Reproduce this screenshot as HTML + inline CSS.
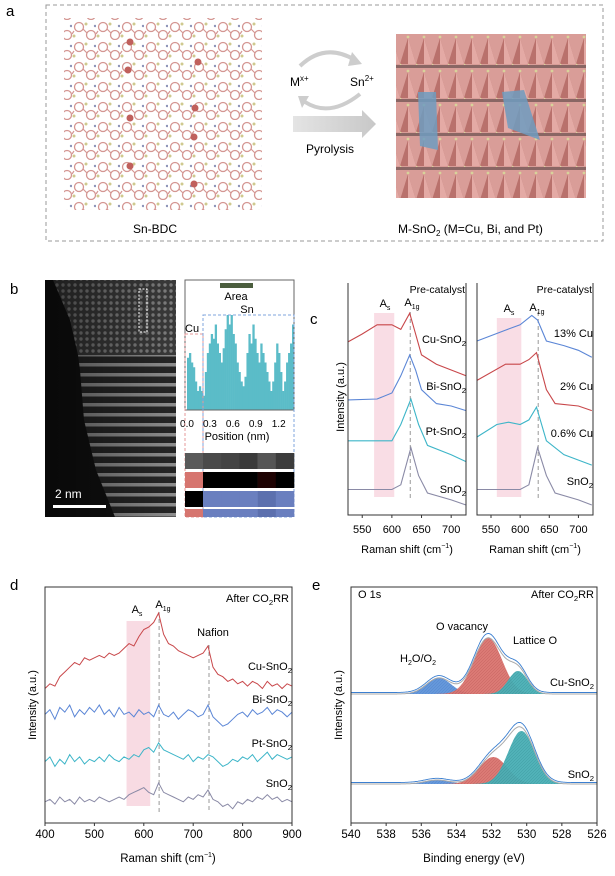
<!DOCTYPE html>
<html><head><meta charset="utf-8"><style>
html,body{margin:0;padding:0;background:#fff}
svg{display:block;font-family:"Liberation Sans",Arial,sans-serif}
</style></head><body>
<svg id="fig" width="615" height="876" viewBox="0 0 615 876">
<defs>
<pattern id="hatchR" width="3" height="3" patternUnits="userSpaceOnUse"><rect width="3" height="3" fill="#d9736e"/><path d="M0,3L3,0" stroke="#c15a55" stroke-width="0.5"/></pattern>
<pattern id="hatchB" width="3" height="3" patternUnits="userSpaceOnUse"><rect width="3" height="3" fill="#5d93d8"/><path d="M0,3L3,0" stroke="#4a7fca" stroke-width="0.5"/></pattern>
<pattern id="hatchT" width="3" height="3" patternUnits="userSpaceOnUse"><rect width="3" height="3" fill="#48aeb4"/><path d="M0,3L3,0" stroke="#35979d" stroke-width="0.5"/></pattern>
<pattern id="mof" width="24" height="20" patternUnits="userSpaceOnUse">
<circle cx="7" cy="7" r="4.5" fill="none" stroke="#d49692" stroke-width="1.3"/>
<circle cx="19" cy="15" r="4.5" fill="none" stroke="#d49692" stroke-width="1.3"/>
<path d="M11,9L15,13M2,11L0,14" stroke="#d49692" stroke-width="1.2"/>
<circle cx="14" cy="4" r="1.5" fill="#cfc98f"/><circle cx="2" cy="16" r="1.5" fill="#cfc98f"/>
<circle cx="23" cy="6" r="1.2" fill="#8d93b8"/>
</pattern>
<pattern id="oct" width="16" height="34" patternUnits="userSpaceOnUse">
<rect width="16" height="34" fill="#d99d98"/><path d="M0,30L8,4L16,30Z" fill="#b9716c"/><path d="M8,4L16,30H8Z" fill="#e4aaa5"/><circle cx="8" cy="3" r="1.4" fill="#d8d39a"/><circle cx="0" cy="31" r="1.4" fill="#d8d39a"/><rect y="31" width="16" height="3" fill="#8a6664"/>
</pattern>
<pattern id="stripes" width="10" height="10" patternUnits="userSpaceOnUse"><rect width="10" height="10" fill="#262626"/><rect y="3" width="10" height="3.5" fill="#8e8e8e"/></pattern>
<pattern id="dots" width="6" height="6" patternUnits="userSpaceOnUse"><rect width="6" height="6" fill="#3a3a3a"/><circle cx="3" cy="3" r="1.7" fill="#7e7e7e"/></pattern>
<linearGradient id="arr" x1="0" x2="1"><stop offset="0" stop-color="#e4e4e4"/><stop offset="1" stop-color="#c8c8c8"/></linearGradient>
<linearGradient id="stemfade" x1="0" x2="1"><stop offset="0" stop-color="#000" stop-opacity="0.5"/><stop offset="1" stop-color="#000" stop-opacity="0"/></linearGradient>
</defs>

<!-- Panel a -->
<g>
<text x="6" y="16" font-size="15">a</text>
<rect x="46" y="5" width="557" height="236" fill="none" stroke="#999" stroke-dasharray="4,3"/>
<rect x="64" y="18" width="198" height="192" fill="url(#mof)"/>
<g fill="#c0605c">
<circle cx="130" cy="42" r="3.5"/><circle cx="128" cy="70" r="3.5"/><circle cx="130" cy="118" r="3.5"/><circle cx="130" cy="166" r="3.5"/><circle cx="198" cy="62" r="3.5"/><circle cx="195" cy="108" r="3.5"/><circle cx="194" cy="137" r="3.5"/><circle cx="194" cy="184" r="3.5"/>
</g>
<g>
<rect x="396" y="34" width="190" height="164" fill="url(#oct)"/>
<polygon points="418,92 436,92 438,150 420,146" fill="#6f9cc0" opacity="0.85"/>
<polygon points="502,92 524,90 540,140 508,128" fill="#6f9cc0" opacity="0.85"/>
</g>
<path d="M300,66 Q325,42 355,60" fill="none" stroke="#cdcdcd" stroke-width="4"/>
<polygon points="352,52 362,64 348,66" fill="#cdcdcd"/>
<path d="M360,94 Q330,118 305,102" fill="none" stroke="#cdcdcd" stroke-width="4"/>
<polygon points="298,96 309,96 302,108" fill="#cdcdcd"/>
<polygon points="293,116 362,116 362,110 376,124 362,138 362,132 293,132" fill="url(#arr)"/>
<text x="290" y="86" font-size="12">M<tspan font-size="8" dy="-5">x+</tspan></text>
<text x="350" y="86" font-size="12">Sn<tspan font-size="8" dy="-5">2+</tspan></text>
<text x="330" y="153" font-size="12" text-anchor="middle">Pyrolysis</text>
<text x="155" y="233" font-size="12" text-anchor="middle">Sn-BDC</text>
<text x="398" y="233" font-size="12">M-SnO<tspan font-size="8" dy="3">2</tspan><tspan dy="-3"> (M=Cu, Bi, and Pt)</tspan></text>
</g>

<!-- Panel b -->
<g>
<text x="10" y="294" font-size="15">b</text>
<rect x="45" y="280" width="131" height="237" fill="#111"/>
<polygon points="78,355 176,355 176,517 115,517 96,470 84,420 80,370" fill="url(#stripes)"/>
<polygon points="53,280 176,280 176,355 78,355 70,320" fill="url(#dots)"/>
<rect x="45" y="280" width="131" height="237" fill="url(#stemfade)"/>
<rect x="139" y="289" width="8" height="43" fill="none" stroke="#fff" stroke-dasharray="2,1.5"/>
<rect x="53" y="505" width="53" height="3" fill="#fff"/>
<text x="55" y="498" font-size="12" fill="#fff">2  nm</text>
<g id="profile"></g>
<g id="strips"></g>
</g>

<!-- Panel c -->
<g>
<text x="310" y="324" font-size="15">c</text>
<g id="cLeft"></g>
<g id="cRight"></g>
<text transform="translate(344,397) rotate(-90)" font-size="11" text-anchor="middle">Intensity (a.u.)</text>
</g>

<!-- Panel d -->
<g>
<text x="10" y="590" font-size="15">d</text>
<g id="dChart"></g>
<text transform="translate(36,705) rotate(-90)" font-size="11" text-anchor="middle">Intensity (a.u.)</text>
</g>

<!-- Panel e -->
<g>
<text x="312" y="590" font-size="15">e</text>
<g id="eChart"></g>
<text transform="translate(342,705) rotate(-90)" font-size="11" text-anchor="middle">Intensity (a.u.)</text>
</g>
</svg>

<script>
const NS="http://www.w3.org/2000/svg";
function mk(parent,tag,attrs,text){const e=document.createElementNS(NS,tag);for(const k in attrs)e.setAttribute(k,attrs[k]);if(text!==undefined)e.textContent=text;parent.appendChild(e);return e;}

/* ---------- Panel b profile data ---------- */
const profileValues=[0.55,0.6,0.5,0.45,0.3,0.2,0.25,0.2,0.15,0.4,0.6,0.7,0.8,0.75,0.9,0.7,0.6,0.5,0.65,0.85,1.0,0.9,1.0,0.8,0.7,0.5,0.4,0.3,0.25,0.35,0.6,0.8,0.7,0.9,0.75,0.6,0.5,0.7,0.6,0.5,0.4,0.3,0.2,0.3,0.5,0.7,0.6,0.4,0.2,0.3,0.5,0.6,0.7,0.9];
const profileTicks=[0.0,0.3,0.6,0.9,1.2];
const profileMax=1.4;
const stripRows=[["#5a5a5a","#4a4a4a","#444","#3a3a3a","#555","#3c3c3c"],["#d6756f","#000","#000","#000","#1e0303","#000"],["#000","#6a7fbf","#6a7fbf","#6a7fbf","#5c70ae","#6a7fbf"],["#d6756f","#6a7fbf","#6a7fbf","#6a7fbf","#5c70ae","#6a7fbf"]];
(function(){
 const g=document.getElementById('profile');
 const x0=187,x1=294,yb=410,yt=315;
 const xs=v=>x0+(v/profileMax)*(x1-x0);
 const ys=v=>yb-v*(yb-yt);
 const bw=(x1-x0)/profileValues.length;
 profileValues.forEach((v,i)=>{const r=mk(g,'rect',{x:x0+i*bw,y:ys(v),width:bw+0.3,height:yb-ys(v),fill:'#5bbcc8'});
  });
 const ax=mk(g,'path',{d:`M185,280V${yb}H${x1}V280Z`,fill:'none',stroke:'#666','stroke-width':1});
 
 profileTicks.forEach(t=>{const tx=mk(g,'text',{x:xs(t),y:427,'font-size':10,'text-anchor':'middle'},t.toFixed(1));
  });
 const tt=mk(g,'text',{x:237,y:440,'font-size':11,'text-anchor':'middle'},'Position (nm)');
 
 const d1=mk(g,'rect',{x:185,y:334,width:18,height:183,fill:'none',stroke:'#e59a9a','stroke-dasharray':'3,2'});
 
 const d2=mk(g,'rect',{x:203,y:315,width:91,height:202,fill:'none',stroke:'#7fa4dd','stroke-dasharray':'3,2'});
 
 const ar=mk(g,'rect',{x:220,y:283,width:33,height:5,fill:'#4b5e3e'});
 
 const l1=mk(g,'text',{x:236,y:300,'font-size':11,'text-anchor':'middle'},'Area');
 
 const l2=mk(g,'text',{x:247,y:313,'font-size':11,'text-anchor':'middle'},'Sn');
 
 const l3=mk(g,'text',{x:185,y:332,'font-size':11},'Cu');
 
 const sg=document.getElementById('strips');
 const rowsY=[453,472,491,509];
 const rowsH=[16,16,16,8];
 stripRows.forEach((row,ri)=>{row.forEach((c,ci)=>{const x=ci===0?185:203+(ci-1)*(91/5);const w=ci===0?18:91/5+0.3;
  const r=mk(sg,'rect',{x:x,y:rowsY[ri],width:w,height:rowsH[ri],fill:c});
  });});
})();

/* ---------- Panel c data ---------- */
const cLeftX=[[526,550,575,600,615,630,640,650,675,700,725],[526,575,600,615,630,640,650,675,700,725],[526,575,600,615,632,645,660,700,725],[526,575,600,615,632,645,660,700,725]];
const cLeftY=[[74.6,78,82,82,80,87,78,69,65,62.5,60],[49.6,50,52.6,60,69,62.5,54,48,47,45],[32,32,32,39,50,39,30,26,23],[11,11,11,13,29,17,9.5,6.5,4.3]];
const cLeftLabels=["Cu-SnO2","Bi-SnO2","Pt-SnO2","SnO2"];
const cRightX=[[526,575,600,620,630,645,675,700,723],[526,575,600,615,628,645,660,700,723],[526,560,580,600,615,628,645,675,723],[526,575,600,615,630,645,660,700,723]];
const cRightY=[[75,79.7,82,86,84,75,73,71,68],[58,65,65,67,70,54,48,47,45],[33.6,39,40,39,41,46.5,32,26,21.5],[11,11,11,13,29,17,9.5,6.5,4.3]];
const cRightLabels=["13% Cu","2% Cu","0.6% Cu","SnO2"];
const cTicks=[550,600,650,700];
const colors=["#c8474a","#5b86d6","#3db5c8","#8a8aa6"];
const cRightColors=["#5b86d6","#c8474a","#3db5c8","#8a8aa6"];

function sub2(g,x,y,txt,size,anchor,name){
 const t=mk(g,'text',{x:x,y:y,'font-size':size,'text-anchor':anchor||'start'});
 
 if(txt.indexOf('O2')>=0){const i=txt.lastIndexOf('O2');
  mk(t,'tspan',{},txt.slice(0,i+1));mk(t,'tspan',{'font-size':size*0.7,dy:3},'2');mk(t,'tspan',{dy:-3},txt.slice(i+2)||'\u200b');}
 else t.textContent=txt;
 return t;
}

function ramanC(id,x0,x1,band,bandTop,XS,YS,labels,labelY,cols,asPos,a1Pos){
 const g=document.getElementById(id);
 const yb=515,yt=283,dmin=526,dmax=725;
 const xs=v=>x0+(v-dmin)/(dmax-dmin)*(x1-x0);
 const ys=v=>yb-v*(yb-yt)/100;
 const b=mk(g,'rect',{x:xs(band[0]),y:bandTop,width:xs(band[1])-xs(band[0]),height:497-bandTop,fill:'#f7d5de',opacity:0.8});
 
 const dl=mk(g,'line',{x1:xs(631),x2:xs(631),y1:312,y2:500,stroke:'#999','stroke-dasharray':'4,3'});
 
 XS.forEach((xa,si)=>{let d='';xa.forEach((x,i)=>{d+=(i?'L':'M')+xs(x).toFixed(1)+','+ys(YS[si][i]).toFixed(1);});
  const p=mk(g,'path',{d:d,fill:'none',stroke:cols[si],'stroke-width':1.1});
  
  sub2(g,x1,labelY[si],labels[si],11,'end','spectrum-label');});
 const ax=mk(g,'path',{d:`M${x0},${yt}V${yb}H${x1}V${yt}`,fill:'none',stroke:'#333','stroke-width':1});
 
 cTicks.forEach(t=>{const l=mk(g,'line',{x1:xs(t),x2:xs(t),y1:yb,y2:yb+3,stroke:'#333'});
  
  const tx=mk(g,'text',{x:xs(t),y:533,'font-size':11,'text-anchor':'middle'},t);
  });
 const tt=mk(g,'text',{x:(x0+x1)/2,y:553,'font-size':11,'text-anchor':'middle'});
 
 mk(tt,'tspan',{},'Raman shift (cm');mk(tt,'tspan',{'font-size':7,dy:-5},'−1');mk(tt,'tspan',{dy:5},')');
 const pc=mk(g,'text',{x:x1-1,y:293,'font-size':10.5,'text-anchor':'end'},'Pre-catalyst');
 
 const as=mk(g,'text',{x:asPos[0],y:asPos[1],'font-size':11,'text-anchor':'middle'});
 
 mk(as,'tspan',{},'A');mk(as,'tspan',{'font-size':7,dy:3},'s');
 const a1=mk(g,'text',{x:a1Pos[0],y:a1Pos[1],'font-size':11,'text-anchor':'middle'});
 
 mk(a1,'tspan',{},'A');mk(a1,'tspan',{'font-size':7,dy:3},'1g');
}
ramanC('cLeft',348,466,[570,604],313,cLeftX,cLeftY,cLeftLabels,[343,390,435,493],colors,[385,307],[412,306]);
ramanC('cRight',477,593,[560,602],318,cRightX,cRightY,cRightLabels,[337,390,437,485],cRightColors,[509,312],[537,311]);

/* ---------- Panel d data ---------- */
const dShift=[400,410,420,430,440,450,460,470,480,490,500,510,520,530,540,550,560,570,580,590,600,610,620,630,640,650,660,670,680,690,700,710,720,730,740,750,760,770,780,790,800,810,820,830,840,850,860,870,880,890,900];
const dCu=[57,59,58,62,64,66,68,67,70,69,70,71,70,72,71,72,74,76,75,79,82,83,85,89,80,76,75,73,72,71,70,71,72,75,66,63,62,60,61,59,60,58,60,59,57,60,58,59,57,59,58];
const dBi=[46,48,44,49,47,50,45,48,46,49,47,50,46,48,45,49,46,47,45,48,46,47,45,50,46,45,47,44,46,48,47,45,46,50,45,43,41,42,44,46,47,45,48,46,47,49,46,48,47,45,47];
const dPt=[26,28,24,27,25,29,26,28,25,27,26,28,26,29,27,26,28,27,29,28,31,32,30,34,31,30,29,28,27,29,26,28,27,29,28,26,24,25,27,26,28,27,29,26,28,30,27,29,28,27,28];
const dSn=[9,10,8,11,9,10,8,11,9,10,9,11,10,9,10,11,10,12,13,14,15,13,12,17,13,12,11,10,9,11,10,12,11,14,10,9,7,8,6,9,8,10,9,11,10,12,10,11,9,10,9];
const dTicks=[400,500,600,700,800,900];
(function(){
 const g=document.getElementById('dChart');
 const x0=45,x1=292,yt=587,yb=823;
 const xs=v=>x0+(v-400)/500*(x1-x0);
 const ys=v=>yb-v*(yb-yt)/100;
 const b=mk(g,'rect',{x:xs(565),y:621,width:xs(613)-xs(565),height:806-621,fill:'#f7d5de',opacity:0.85});
 
 [[631,612],[732,645]].forEach(([v,y0])=>{const l=mk(g,'line',{x1:xs(v),x2:xs(v),y1:y0,y2:812,stroke:'#999','stroke-dasharray':'4,3'});
  });
 [dCu,dBi,dPt,dSn].forEach((arr,si)=>{let d='';arr.forEach((v,i)=>{d+=(i?'L':'M')+xs(dShift[i]).toFixed(1)+','+ys(v).toFixed(1);});
  const p=mk(g,'path',{d:d,fill:'none',stroke:colors[si],'stroke-width':1});
  });
 const labY=[670,703,747,787];
 cLeftLabels.forEach((l,i)=>sub2(g,x1,labY[i],l,11,'end','spectrum-label'));
 const ax=mk(g,'path',{d:`M${x0},${yt}V${yb}H${x1}V${yt}Z`,fill:'none',stroke:'#333'});
 
 dTicks.forEach(t=>{const l=mk(g,'line',{x1:xs(t),x2:xs(t),y1:yb,y2:yb+3,stroke:'#333'});
  
  const tx=mk(g,'text',{x:xs(t),y:838,'font-size':11.5,'text-anchor':'middle'},t);
  });
 const tt=mk(g,'text',{x:168,y:862,'font-size':11.5,'text-anchor':'middle'});
 
 mk(tt,'tspan',{},'Raman shift (cm');mk(tt,'tspan',{'font-size':7,dy:-5},'−1');mk(tt,'tspan',{dy:5},')');
 sub2(g,x1-3,602,'After CO2RR',11,'end','after-co2rr-label');
 const as=mk(g,'text',{x:137,y:613,'font-size':11,'text-anchor':'middle'});
 
 mk(as,'tspan',{},'A');mk(as,'tspan',{'font-size':7,dy:3},'s');
 const a1=mk(g,'text',{x:163,y:608,'font-size':11,'text-anchor':'middle'});
 
 mk(a1,'tspan',{},'A');mk(a1,'tspan',{'font-size':7,dy:3},'1g');
 const nf=mk(g,'text',{x:213,y:636,'font-size':11,'text-anchor':'middle'},'Nafion');
 
})();

/* ---------- Panel e data ---------- */
const eCenters=[[535.0,532.2,530.5],[535.1,531.9,530.3]];
const eHeights=[[16,56,23],[4,27,53]];
const eWidths=[[0.7,0.8,0.55],[0.7,0.8,0.75]];
const eBaselines=[694,784];
const eTicks=[540,538,536,534,532,530,528,526];
const eLabels=["Cu-SnO2","SnO2"];
(function(){
 const g=document.getElementById('eChart');
 const x0=351,x1=597,yt=587,yb=823;
 const xs=v=>x0+(540-v)/14*(x1-x0);
 const fills=['url(#hatchB)','url(#hatchR)','url(#hatchT)'];
 const gs=(x,c,h,w)=>h*Math.exp(-0.5*((x-c)/w)**2);
 const labY=[686,778];
 eCenters.forEach((cs,si)=>{
  const base=eBaselines[si];
  const grid=[];for(let e=540;e>=526-1e-9;e-=0.05)grid.push(e);
  cs.forEach((c,ci)=>{let d=`M${xs(540)},${base}`;grid.forEach(e=>{d+=`L${xs(e).toFixed(1)},${(base-gs(e,c,eHeights[si][ci],eWidths[si][ci])).toFixed(1)}`;});d+=`L${xs(526)},${base}Z`;
   const p=mk(g,'path',{d:d,fill:fills[ci],stroke:'none',opacity:0.95});
   });
  let env='',meas='';grid.forEach((e,i)=>{let s=0;cs.forEach((c,ci)=>s+=gs(e,c,eHeights[si][ci],eWidths[si][ci]));
   env+=(i?'L':'M')+xs(e).toFixed(1)+','+(base-s).toFixed(1);
   meas+=(i?'L':'M')+xs(e).toFixed(1)+','+(base-s*1.05-1.5).toFixed(1);});
  const pe=mk(g,'path',{d:env,fill:'none',stroke:'#aaa','stroke-width':1});
  
  const pm=mk(g,'path',{d:meas,fill:'none',stroke:'#3b7fd0','stroke-width':0.9});
  
  sub2(g,x1-3,labY[si],eLabels[si],11,'end','spectrum-label');
 });
 const ax=mk(g,'path',{d:`M${x0},${yt}V${yb}H${x1}V${yt}Z`,fill:'none',stroke:'#333'});
 
 eTicks.forEach(t=>{const l=mk(g,'line',{x1:xs(t),x2:xs(t),y1:yb,y2:yb+3,stroke:'#333'});
  
  const tx=mk(g,'text',{x:xs(t),y:838,'font-size':11.5,'text-anchor':'middle'},t);
  });
 const tt=mk(g,'text',{x:474,y:862,'font-size':11.5,'text-anchor':'middle'},'Binding energy (eV)');
 
 const o=mk(g,'text',{x:358,y:598,'font-size':11},'O 1s');
 
 sub2(g,x1-3,598,'After CO2RR',11,'end','after-co2rr-label');
 const ov=mk(g,'text',{x:462,y:630,'font-size':11,'text-anchor':'middle'},'O vacancy');
 
 const lo=mk(g,'text',{x:535,y:644,'font-size':11,'text-anchor':'middle'},'Lattice O');
 
 const h=mk(g,'text',{x:418,y:662,'font-size':11,'text-anchor':'middle'});
 
 mk(h,'tspan',{},'H');mk(h,'tspan',{'font-size':7,dy:3},'2');mk(h,'tspan',{dy:-3},'O/O');mk(h,'tspan',{'font-size':7,dy:3},'2');
})();
</script>
</body></html>
